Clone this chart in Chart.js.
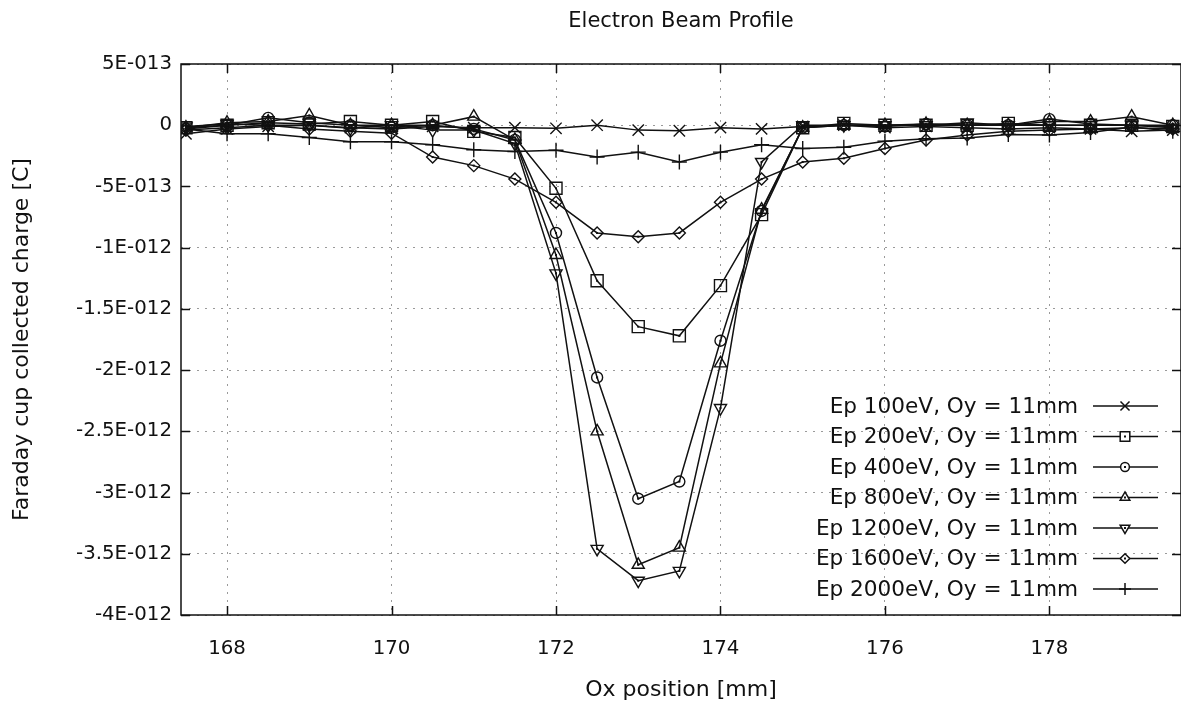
<!DOCTYPE html>
<html>
<head>
<meta charset="utf-8">
<title>Electron Beam Profile</title>
<script src="https://cdn.jsdelivr.net/npm/chart.js@4.4.0/dist/chart.umd.min.js"></script>
<style>
	html, body { margin: 0; padding: 0; background: #fff; }
	#wrap { position: relative; width: 1181px; height: 707px; }
</style>
</head>
<body>
<div id="wrap"><canvas id="beamChart"></canvas></div>
<script>
// Ox position of each Faraday cup reading [mm]
const positions = [167.5, 168, 168.5, 169, 169.5, 170, 170.5, 171, 171.5, 172, 172.5, 173, 173.5,
	174, 174.5, 175, 175.5, 176, 176.5, 177, 177.5, 178, 178.5, 179, 179.5];

// collected charge, in units of 1E-12 C
const UNIT = 1e-12;
const ep100  = [-0.07, -0.03, -0.01, 0.00, -0.02, -0.03, -0.01, -0.02, -0.02, -0.025, 0.00, -0.04, -0.045,
	-0.02, -0.03, -0.01, 0.00, -0.02, -0.01, -0.02, -0.03, -0.02, -0.03, -0.05, -0.04];
const ep200  = [-0.02, 0.00, 0.02, 0.01, 0.03, 0.00, 0.03, -0.05, -0.10, -0.515, -1.27, -1.645, -1.72,
	-1.31, -0.73, -0.02, 0.015, 0.00, 0.00, 0.00, 0.015, 0.00, 0.00, 0.00, -0.01];
const ep400  = [-0.03, 0.00, 0.06, 0.02, 0.00, -0.02, 0.00, -0.03, -0.12, -0.88, -2.06, -3.05, -2.91,
	-1.76, -0.70, -0.02, 0.00, -0.01, 0.01, 0.00, 0.00, 0.05, 0.01, 0.00, 0.00];
const ep800  = [-0.02, 0.02, 0.03, 0.08, 0.00, 0.00, 0.00, 0.07, -0.12, -1.06, -2.50, -3.59, -3.45,
	-1.945, -0.69, -0.02, 0.00, 0.00, 0.01, 0.00, 0.00, 0.03, 0.03, 0.07, 0.00];
const ep1200 = [-0.01, 0.01, 0.00, 0.00, -0.025, 0.00, -0.04, -0.04, -0.15, -1.21, -3.46, -3.72, -3.64,
	-2.31, -0.30, 0.00, 0.00, 0.00, 0.00, 0.02, 0.00, 0.00, 0.00, 0.00, -0.02];
const ep1600 = [-0.04, -0.02, 0.00, -0.03, -0.05, -0.065, -0.26, -0.33, -0.44, -0.63, -0.88, -0.91, -0.88,
	-0.63, -0.44, -0.30, -0.27, -0.19, -0.12, -0.08, -0.05, -0.04, -0.03, -0.02, -0.03];
const ep2000 = [-0.03, -0.07, -0.07, -0.10, -0.135, -0.135, -0.16, -0.20, -0.215, -0.205, -0.26, -0.22, -0.30,
	-0.22, -0.16, -0.19, -0.18, -0.13, -0.11, -0.105, -0.075, -0.08, -0.06, -0.015, -0.05];

const seriesNames = ['Ep 100eV, Oy = 11mm', 'Ep 200eV, Oy = 11mm', 'Ep 400eV, Oy = 11mm', 'Ep 800eV, Oy = 11mm',
	'Ep 1200eV, Oy = 11mm', 'Ep 1600eV, Oy = 11mm', 'Ep 2000eV, Oy = 11mm'];

const xTicks = [168, 170, 172, 174, 176, 178];
const yTicks = [0.5, 0, -0.5, -1, -1.5, -2, -2.5, -3, -3.5, -4];
const yTickLabels = ['5E-013', '0', '-5E-013', '-1E-012', '-1.5E-012', '-2E-012', '-2.5E-012', '-3E-012', '-3.5E-012', '-4E-012'];

// marker per series, gnuplot style
const markers = [
	{ pointStyle: 'crossRot', radius: 8, rotation: 0, dot: false },
	{ pointStyle: 'rect', radius: 8.5, rotation: 0, dot: true },
	{ pointStyle: 'circle', radius: 5.5, rotation: 0, dot: true },
	{ pointStyle: 'triangle', radius: 7, rotation: 0, dot: true },
	{ pointStyle: 'triangle', radius: 7, rotation: 180, dot: true },
	{ pointStyle: 'rectRot', radius: 6, rotation: 0, dot: true },
	{ pointStyle: 'cross', radius: 7.5, rotation: 0, dot: false }
];

const FONT = 'DejaVu Sans';
const INK = '#111';

const allSeries = [ep100, ep200, ep400, ep800, ep1200, ep1600, ep2000];
const datasets = allSeries.map((vals, i) => ({
	label: seriesNames[i],
	data: vals.map((v, k) => ({ x: positions[k], y: v * UNIT })),
	borderColor: INK,
	borderWidth: 1.5,
	backgroundColor: '#fff',
	pointStyle: markers[i].pointStyle,
	pointRadius: markers[i].radius,
	pointRotation: markers[i].rotation,
	pointBorderColor: INK,
	pointBackgroundColor: 'rgba(255,255,255,0)',
	pointBorderWidth: 1.4,
	pointHoverRadius: markers[i].radius,
	tension: 0,
	fill: false
}));

// frame, inward ticks, centre dots, title and the legend block
const gnuplotFrame = {
	id: 'gnuplotFrame',
	afterDatasetsDraw(chart) {
		const ctx = chart.ctx;
		ctx.save();
		ctx.fillStyle = INK;
		chart.data.datasets.forEach((ds, i) => {
			if (!markers[i].dot) return;
			chart.getDatasetMeta(i).data.forEach(pt => {
				ctx.fillRect(pt.x - 1, pt.y - 1, 2, 2);
			});
		});
		ctx.restore();
	},
	afterDraw(chart) {
		const ctx = chart.ctx;
		const a = chart.chartArea;
		const xs = chart.scales.x, ys = chart.scales.y;
		const tl = 9;
		ctx.save();
		ctx.strokeStyle = INK;
		ctx.lineWidth = 1.5;
		ctx.strokeRect(a.left, a.top, a.right - a.left, a.bottom - a.top);
		ctx.beginPath();
		xTicks.forEach(v => {
			const px = Math.round(xs.getPixelForValue(v)) + 0.5;
			ctx.moveTo(px, a.bottom); ctx.lineTo(px, a.bottom - tl);
			ctx.moveTo(px, a.top); ctx.lineTo(px, a.top + tl);
		});
		yTicks.forEach(v => {
			const py = Math.round(ys.getPixelForValue(v * UNIT)) + 0.5;
			ctx.moveTo(a.left, py); ctx.lineTo(a.left + tl, py);
			ctx.moveTo(a.right, py); ctx.lineTo(a.right - tl, py);
		});
		ctx.stroke();

		// title
		ctx.fillStyle = INK;
		ctx.font = '21px "' + FONT + '"';
		ctx.textAlign = 'center';
		ctx.textBaseline = 'middle';
		ctx.fillText('Electron Beam Profile', (a.left + a.right) / 2, 22);

		// legend: right-aligned text, then line sample with marker
		const textRight = 1078, sx0 = 1093, sx1 = 1158, mx = 1125;
		ctx.font = '21.6px "' + FONT + '"';
		ctx.textAlign = 'right';
		seriesNames.forEach((name, i) => {
			const y = 406 + i * 30.5;
			ctx.fillStyle = INK;
			ctx.fillText(name, textRight, y + 1);
			ctx.beginPath();
			ctx.lineWidth = 1.5;
			ctx.moveTo(sx0, y); ctx.lineTo(sx1, y);
			ctx.stroke();
			ctx.fillStyle = '#fff';
			Chart.helpers.drawPoint(ctx, {
				pointStyle: markers[i].pointStyle,
				rotation: markers[i].rotation,
				radius: markers[i].radius * 0.8,
				borderWidth: 1.4
			}, mx, y);
			if (markers[i].dot) {
				ctx.fillStyle = INK;
				ctx.fillRect(mx - 1, y - 1, 2, 2);
			}
		});
		ctx.restore();
	}
};

Chart.defaults.font.family = FONT;
Chart.defaults.color = INK;

new Chart(document.getElementById('beamChart'), {
	type: 'line',
	data: { datasets },
	options: {
		responsive: true,
		maintainAspectRatio: false,
		animation: false,
		devicePixelRatio: 1,
		layout: { autoPadding: false, padding: { top: 64, right: 0, bottom: 0, left: 0 } },
		plugins: {
			legend: { display: false },
			title: { display: false },
			tooltip: { enabled: false }
		},
		scales: {
			x: {
				type: 'linear',
				min: 167.44,
				max: 179.6,
				afterBuildTicks: s => { s.ticks = xTicks.map(v => ({ value: v })); },
				afterFit: s => { s.height = 92; s.paddingLeft = 0; s.paddingRight = 0; },
				ticks: {
					autoSkip: false,
					maxRotation: 0,
					padding: 22,
					font: { size: 19.8 },
					callback: v => String(v)
				},
				grid: { color: '#9a9a9a', lineWidth: 1, drawTicks: false },
				border: { display: false, dash: [2, 6] },
				title: {
					display: true,
					text: 'Ox position [mm]',
					font: { size: 22 },
					padding: { top: 0, bottom: 4 }
				}
			},
			y: {
				type: 'linear',
				min: -4 * UNIT,
				max: 0.5 * UNIT,
				afterBuildTicks: s => { s.ticks = yTicks.map(v => ({ value: v * UNIT })); },
				afterFit: s => { s.width = 181; s.paddingTop = 0; s.paddingBottom = 0; },
				ticks: {
					autoSkip: false,
					padding: 9,
					font: { size: 19.8 },
					callback: (v, i) => yTickLabels[i]
				},
				grid: { color: '#9a9a9a', lineWidth: 1, drawTicks: false },
				border: { display: false, dash: [2, 6] },
				title: {
					display: true,
					text: 'Faraday cup collected charge [C]',
					font: { size: 22 },
					padding: { top: 9, bottom: 0 }
				}
			}
		}
	},
	plugins: [gnuplotFrame]
});
</script>
</body>
</html>
